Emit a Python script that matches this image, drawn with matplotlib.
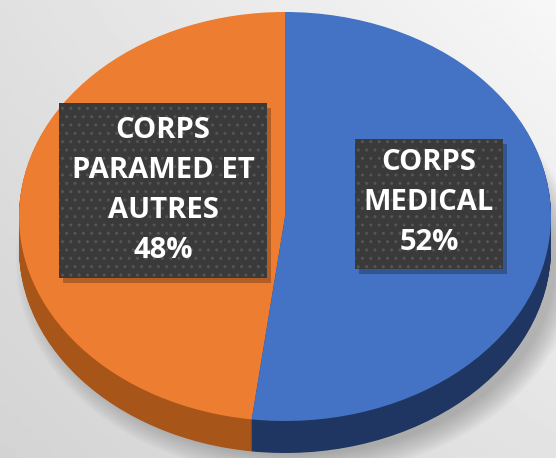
import numpy as np
import matplotlib
matplotlib.use("Agg")
import matplotlib.pyplot as plt
from matplotlib.patches import Rectangle, Ellipse

# data
labels = ["CORPS\nPARAMED ET\nAUTRES", "CORPS\nMEDICAL"]
shares = [48, 52]
top_colors = ["#ED7D31", "#4472C4"]
side_colors = ["#A85519", "#1F3562"]

W, H = 556, 458
fig = plt.figure(figsize=(W / 100, H / 100), dpi=100)

# background gradient
bg = fig.add_axes([0, 0, 1, 1], zorder=0)
bg.set_xlim(0, W)
bg.set_ylim(H, 0)
bg.axis("off")
yy, xx = np.mgrid[0:1:200j, 0:1:200j]
corners = np.array([[0.88, 0.97], [0.83, 0.89]])  # [top-left, top-right], [bottom-left, bottom-right]
grad = (corners[0, 0] * (1 - xx) * (1 - yy) + corners[0, 1] * xx * (1 - yy)
        + corners[1, 0] * (1 - xx) * yy + corners[1, 1] * xx * yy)
bg.imshow(grad, cmap="gray", vmin=0, vmax=1, extent=[0, W, H, 0], aspect="auto")

# soft shadow under the pie
cx, cy, a, b, depth = 285, 216.5, 266, 204.5, 32
for k in range(12):
    bg.add_patch(Ellipse((cx + 12, cy + depth + 14), 2 * a + 30 - 4 * k, 2 * b + 20 - 4 * k,
                         facecolor="black", alpha=0.018, lw=0))

# pie axes, data units: radius 1 -> a px wide, b px tall
pie_ax = fig.add_axes([(cx - a) / W, 1 - (cy + b + depth) / H,
                       2 * a / W, (2 * b + depth) / H], zorder=1)

steps = np.linspace(depth / b, 0.004, 40)
for off in steps:
    pie_ax.pie(shares, colors=side_colors, startangle=90, counterclock=True,
               center=(0, -off), radius=1, wedgeprops=dict(linewidth=0))
pie_ax.pie(shares, colors=top_colors, startangle=90, counterclock=True,
           center=(0, 0), radius=1, wedgeprops=dict(linewidth=0))
pie_ax.set_aspect("auto")
pie_ax.set_xlim(-1, 1)
pie_ax.set_ylim(-1 - depth / b, 1)
pie_ax.axis("off")

# label boxes
ov = fig.add_axes([0, 0, 1, 1], zorder=2)
ov.set_xlim(0, W)
ov.set_ylim(H, 0)
ov.axis("off")
ov.patch.set_alpha(0)

boxes = [(59, 103, 208, 175), (355, 139, 148, 130)]
text_pos = [(163, 191), (429, 202)]
for (x0, y0, bw, bh), (tx, ty), lab, val in zip(boxes, text_pos, labels, shares):
    ov.add_patch(Rectangle((x0 + 4, y0 + 5), bw, bh, facecolor="black", alpha=0.25, lw=0))
    ov.add_patch(Rectangle((x0, y0), bw, bh, facecolor="#3a3a3a", edgecolor="#555555",
                           hatch="..", lw=0))
    ov.text(tx, ty, f"{lab}\n{val}%", ha="center", va="center", color="white",
            fontsize=21, fontweight="bold", family="Open Sans", linespacing=1.5)

fig.savefig("out.png", dpi=100)
